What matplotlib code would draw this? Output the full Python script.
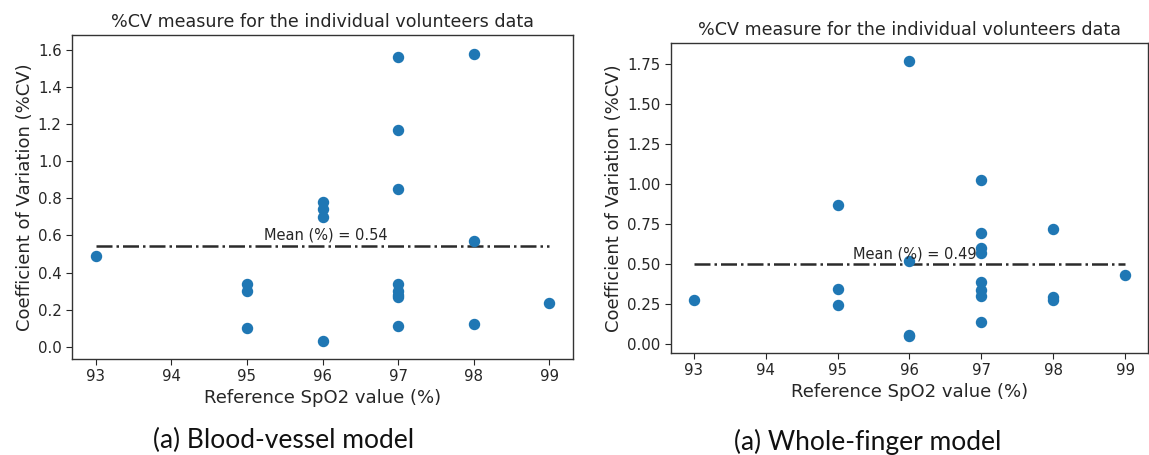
import matplotlib
matplotlib.use("Agg")
import matplotlib.pyplot as plt

# ---- data: blood-vessel model ----
bv_spo2 = [93, 95, 95, 95, 96, 96, 96, 96, 97, 97, 97, 97, 97, 97, 97, 97, 98, 98, 98, 99]
bv_cv   = [0.49, 0.34, 0.30, 0.10, 0.78, 0.74, 0.70, 0.03,
           1.56, 1.17, 0.85, 0.34, 0.30, 0.28, 0.27, 0.11, 1.58, 0.57, 0.12, 0.235]
bv_mean = 0.545
bv_mean_label = "Mean (%) = 0.54"

# ---- data: whole-finger model ----
wf_spo2 = [93, 95, 95, 95, 96, 96, 96, 96, 97, 97, 97, 97, 97, 97, 97, 97, 98, 98, 98, 99]
wf_cv   = [0.275, 0.865, 0.34, 0.24, 1.77, 0.52, 0.055, 0.045,
           1.025, 0.695, 0.60, 0.57, 0.385, 0.335, 0.30, 0.135, 0.72, 0.29, 0.27, 0.43]
wf_mean = 0.496
wf_mean_label = "Mean (%) = 0.49"

x_ticks = [93, 94, 95, 96, 97, 98, 99]
title = "%CV measure for the individual volunteers data"
xlabel = "Reference SpO2 value (%)"
ylabel = "Coefficient of Variation (%CV)"
captions = ["(a) Blood-vessel model", "(a) Whole-finger model"]

fig = plt.figure(figsize=(11.49, 4.55), dpi=100)
ax1 = fig.add_axes([0.0627, 0.211, 0.436, 0.712])
ax2 = fig.add_axes([0.584, 0.224, 0.415, 0.681])

def draw(ax, xs, ys, mean, label, ylim, yticks, yfmt):
    ax.scatter(xs, ys, s=52, color="#1f77b4", zorder=3)
    ax.hlines(mean, min(x_ticks), max(x_ticks), colors="#2b2b2b",
              linestyles="-.", linewidth=1.8, zorder=2)
    ax.text(95.22, mean + 0.018, label, fontsize=10.5, color="#262626",
            ha="left", va="bottom")
    ax.set_xlim(92.685, 99.315)
    ax.set_ylim(*ylim)
    ax.set_xticks(x_ticks)
    ax.set_yticks(yticks)
    ax.set_yticklabels([yfmt.format(v) for v in yticks])
    ax.set_title(title, fontsize=12.6, color="#262626", pad=6)
    ax.set_xlabel(xlabel, fontsize=13, color="#262626", labelpad=3)
    ax.set_ylabel(ylabel, fontsize=13, color="#262626", labelpad=3)
    ax.tick_params(labelsize=10.8, colors="#262626", length=4)
    for sp in ax.spines.values():
        sp.set_color("#333333")
        sp.set_linewidth(1.0)

draw(ax1, bv_spo2, bv_cv, bv_mean, bv_mean_label, (-0.066, 1.68),
     [0.0, 0.2, 0.4, 0.6, 0.8, 1.0, 1.2, 1.4, 1.6], "{:.1f}")
draw(ax2, wf_spo2, wf_cv, wf_mean, wf_mean_label, (-0.059, 1.879),
     [0.0, 0.25, 0.5, 0.75, 1.0, 1.25, 1.5, 1.75], "{:.2f}")

fig.text(284 / 1149, 1 - 440 / 455, captions[0], fontsize=19, family="Lato",
         ha="center", va="center", color="#111111")
fig.text(868 / 1149, 1 - 442 / 455, captions[1], fontsize=19, family="Lato",
         ha="center", va="center", color="#111111")

fig.savefig("out.png", dpi=100, facecolor="white")
